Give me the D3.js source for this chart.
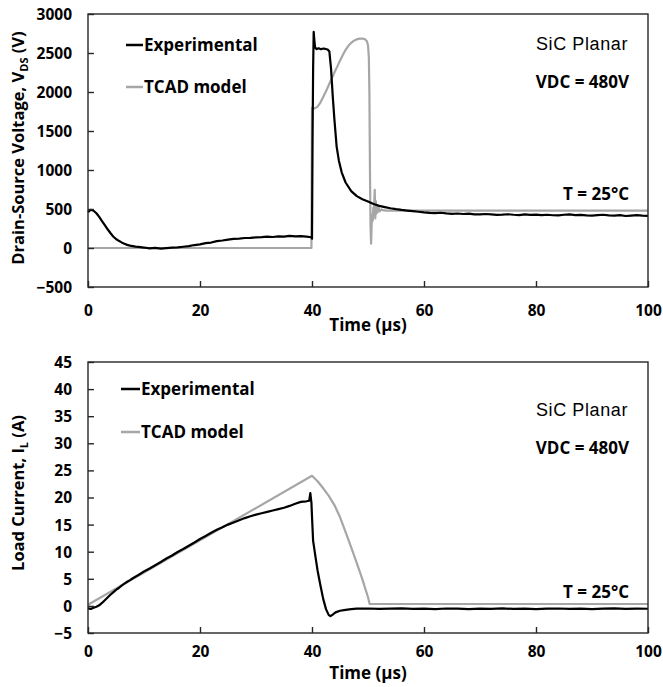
<!DOCTYPE html>
<html><head><meta charset="utf-8">
<script src="https://cdn.jsdelivr.net/npm/d3@7"></script>
<style>body{margin:0;background:#fff}</style>
</head><body><svg id="c" width="663" height="687"></svg>
<script>
// ---------- data ----------
const timeTicks = [0, 20, 40, 60, 80, 100];
const vdsTicks = [-500, 0, 500, 1000, 1500, 2000, 2500, 3000];
const ilTicks = [-5, 0, 5, 10, 15, 20, 25, 30, 35, 40, 45];
const seriesNames = ["Experimental", "TCAD model"];

// Drain-source voltage (V) vs time (us)
const vdsExperimental = [[0,460],[0.5,490],[1,478],[1.5,445],[2,398],[2.5,345],[3,292],[3.5,240],[4,192],[4.5,148],[5,115],[5.5,92],[6,72],[6.5,55],[7,40],[7.5,30],[8,24],[8.5,18],[9,14],[10,6],[11,-4],[12,2],[13,-8],[14,-2],[15,4],[16,9],[17,16],[18,24],[19,38],[20,46],[21,62],[22,70],[23,88],[24,96],[25,108],[26,116],[27,121],[28,128],[29,131],[30,137],[31,140],[32,146],[33,141],[34,150],[35,147],[36,156],[37,149],[38,153],[39,146],[39.9,138],[40.0,120],[40.1,1400],[40.2,2300],[40.3,2770],[40.4,2680],[40.55,2570],[40.8,2550],[41.2,2560],[41.6,2548],[42.0,2558],[42.4,2552],[42.8,2545],[43.1,2520],[43.4,2300],[43.7,1950],[44.0,1650],[44.4,1300],[44.8,1120],[45.3,970],[46,840],[47,730],[48,665],[49,625],[50,595],[51,565],[52,540],[53,525],[54,510],[55,498],[56,488],[57,480],[58,472],[59,465],[60,456],[61,450],[62,446],[63,452],[64,444],[65,438],[66,442],[67,436],[68,440],[69,432],[70,430],[71,436],[72,432],[73,425],[74,428],[75,433],[76,426],[77,422],[78,430],[79,424],[80,428],[81,421],[82,426],[83,420],[84,418],[85,426],[86,430],[87,422],[88,424],[89,418],[90,415],[91,421],[92,426],[93,419],[94,416],[95,422],[96,410],[97,415],[98,421],[99,414],[100,412]];
const vdsTcad = [[0,0],[39.9,0],[40.0,1800],[40.5,1790],[41,1812],[41.5,1865],[42,1935],[42.5,2010],[43,2090],[43.5,2170],[44,2250],[44.5,2325],[45,2400],[45.5,2475],[46,2540],[46.5,2592],[47,2630],[47.5,2658],[48,2675],[48.5,2684],[49,2686],[49.5,2675],[49.8,2650],[50.0,2600],[50.15,2450],[50.25,2000],[50.35,1000],[50.45,300],[50.55,55],[50.65,300],[50.75,430],[50.85,350],[50.95,520],[51.05,450],[51.2,745],[51.3,380],[51.4,600],[51.5,440],[51.6,550],[51.75,460],[51.9,515],[52.1,470],[52.4,495],[52.8,482],[53.5,480],[100,480]];

// Load current (A) vs time (us)
const ilExperimental = [[0,-0.45],[0.5,-0.55],[1,-0.35],[1.5,-0.15],[2,0.1],[2.5,0.55],[3,1.05],[3.5,1.55],[4,2.05],[4.5,2.5],[5,2.95],[5.5,3.3],[6,3.75],[6.5,4.1],[7,4.45],[7.5,4.75],[8,5.1],[9,5.7],[10,6.35],[11,6.9],[12,7.5],[13,8.1],[14,8.75],[15,9.3],[16,9.95],[17,10.5],[18,11.1],[19,11.7],[20,12.35],[21,12.9],[22,13.5],[23,14.05],[24,14.5],[25,15.0],[26,15.4],[27,15.8],[28,16.2],[29,16.55],[30,16.85],[31,17.1],[32,17.35],[33,17.6],[34,17.85],[35,18.1],[36,18.45],[37,18.85],[38,19.2],[39,19.3],[39.5,19.4],[39.7,20.8],[39.9,19.0],[40.0,16.5],[40.2,12.0],[40.4,10.6],[40.6,9.2],[41.0,6.5],[41.5,3.8],[42.0,1.3],[42.5,-0.6],[43.0,-1.7],[43.3,-1.9],[43.7,-1.6],[44.2,-1.2],[45,-0.9],[46,-0.72],[47,-0.6],[48,-0.52],[50,-0.48],[52,-0.55],[54,-0.5],[56,-0.45],[58,-0.55],[60,-0.5],[62,-0.58],[64,-0.48],[66,-0.52],[68,-0.6],[70,-0.5],[72,-0.55],[74,-0.47],[76,-0.56],[78,-0.5],[80,-0.58],[82,-0.52],[84,-0.48],[86,-0.56],[88,-0.5],[90,-0.6],[92,-0.52],[94,-0.47],[96,-0.55],[98,-0.5],[100,-0.53]];
const ilTcad = [[0,0.2],[40,24.0],[41,23.0],[42,21.7],[43,20.3],[44,18.6],[45,16.4],[46,13.6],[47,10.8],[48,7.9],[49,4.9],[50,1.6],[50.3,0.35],[100,0.35]];

// ---------- drawing ----------
const svg = d3.select("#c");
const BOLD = "'Open Sans', Lato, sans-serif";
const colors = {Experimental: "#000000", "TCAD model": "#a6a6a6"};

function panel(cfg) {
  const x = d3.scaleLinear().domain([0, 100]).range([88, 648]);
  const y = d3.scaleLinear().domain(cfg.yDomain).range(cfg.yRange);
  const g = svg.append("g");

  const line = d3.line().x(d => x(d[0])).y(d => y(d[1]));
  g.append("path").datum(cfg.tcad).attr("d", line)
    .attr("fill", "none").attr("stroke", colors["TCAD model"]).attr("stroke-width", 2.2).attr("stroke-linejoin", "round");
  g.append("path").datum(cfg.exp).attr("d", line)
    .attr("fill", "none").attr("stroke", colors.Experimental).attr("stroke-width", 2.2).attr("stroke-linejoin", "round");

  g.append("rect").attr("x", x(0)).attr("y", y.range()[1])
    .attr("width", x(100) - x(0)).attr("height", y.range()[0] - y.range()[1])
    .attr("fill", "none").attr("stroke", "#262626").attr("stroke-width", 1.4);

  const xAx = d3.axisBottom(x).tickValues(cfg.xTicks).tickSizeInner(-6).tickSizeOuter(0).tickFormat(d3.format("d"));
  const gx = g.append("g").attr("transform", `translate(0,${y.range()[0]})`).call(xAx);
  gx.select(".domain").remove();
  gx.selectAll("line").attr("stroke", "#262626").attr("stroke-width", 1.4);
  gx.selectAll("text").attr("y", cfg.xLabelDy).attr("dy", "0.35em")
    .attr("font-family", BOLD).attr("font-weight", 700).attr("font-size", 15.5).attr("fill", "#000");

  const yAx = d3.axisLeft(y).tickValues(cfg.yTicks).tickSizeInner(-6).tickSizeOuter(0).tickFormat(d3.format("d"));
  const gy = g.append("g").attr("transform", `translate(${x(0)},0)`).call(yAx);
  gy.select(".domain").remove();
  gy.selectAll("line").attr("stroke", "#262626").attr("stroke-width", 1.4);
  gy.selectAll("text").attr("x", -16).attr("dy", "0.35em")
    .attr("font-family", BOLD).attr("font-weight", 700).attr("font-size", 15.5).attr("fill", "#000");

  g.append("text").attr("x", 368).attr("y", cfg.xTitleY).attr("text-anchor", "middle")
    .attr("font-family", BOLD).attr("font-weight", 700).attr("font-size", 17).text("Time (µs)");

  const yt = g.append("text").attr("transform", `translate(24,${cfg.yTitleC}) rotate(-90)`)
    .attr("text-anchor", "middle").attr("font-family", BOLD).attr("font-weight", 700).attr("font-size", 16.5);
  yt.append("tspan").text(cfg.yTitle[0]);
  yt.append("tspan").attr("font-size", 11).attr("dy", 4).text(cfg.yTitle[1]);
  yt.append("tspan").attr("dy", -4).text(cfg.yTitle[2]);

  seriesNames.forEach((n, i) => {
    const ly = cfg.legendY[i];
    g.append("line").attr("x1", cfg.legendX[0]).attr("x2", cfg.legendX[1]).attr("y1", ly).attr("y2", ly)
      .attr("stroke", colors[n]).attr("stroke-width", 2.5);
    g.append("text").attr("x", cfg.legendX[1] + 1).attr("y", ly).attr("dy", "0.35em")
      .attr("font-family", BOLD).attr("font-weight", 700).attr("font-size", 17).text(n);
  });

  g.append("text").attr("x", 628).attr("y", cfg.annY[0]).attr("dy", "0.35em").attr("text-anchor", "end")
    .attr("font-family", "'Liberation Sans', Arial, sans-serif").attr("font-size", 18).attr("letter-spacing", 0.6).text("SiC Planar");
  g.append("text").attr("x", 629).attr("y", cfg.annY[1]).attr("dy", "0.35em").attr("text-anchor", "end")
    .attr("font-family", BOLD).attr("font-weight", 700).attr("font-size", 17).text("VDC = 480V");
  g.append("text").attr("x", 629).attr("y", cfg.annY[2]).attr("dy", "0.35em").attr("text-anchor", "end")
    .attr("font-family", BOLD).attr("font-weight", 700).attr("font-size", 17).text("T = 25°C");
}

panel({
  yDomain: [-500, 3000], yRange: [287, 14], yTicks: vdsTicks, xTicks: timeTicks,
  exp: vdsExperimental, tcad: vdsTcad, xLabelDy: 24, xTitleY: 331, yTitleC: 148,
  yTitle: ["Drain-Source Voltage, V", "DS", " (V)"],
  legendX: [126, 143], legendY: [45, 87], annY: [44, 82, 194]
});
panel({
  yDomain: [-5, 45], yRange: [633, 362], yTicks: ilTicks, xTicks: timeTicks,
  exp: ilExperimental, tcad: ilTcad, xLabelDy: 19, xTitleY: 679, yTitleC: 493,
  yTitle: ["Load Current, I", "L", " (A)"],
  legendX: [121, 140], legendY: [389, 432], annY: [410, 448, 592]
});
</script>
</body></html>
